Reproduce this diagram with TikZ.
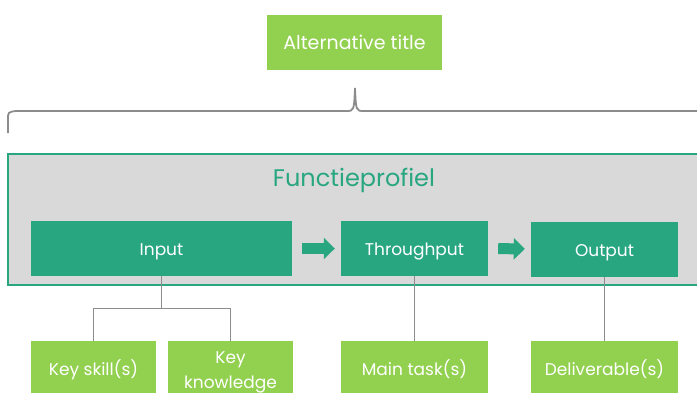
\documentclass[tikz,border=0pt]{standalone}
\usepackage{fontspec}
\setmainfont{Poppins}
\usetikzlibrary{arrows.meta}
\definecolor{darkgreen}{HTML}{28A680}
\definecolor{lightgreen}{HTML}{92D050}
\definecolor{panelgray}{HTML}{D9D9D9}
\definecolor{linegray}{HTML}{8C8C8C}
\begin{document}
\begin{tikzpicture}[x=1pt,y=1pt,
  box/.style={fill=#1,text=white,minimum height=55pt,inner sep=2pt,align=center,
    font=\fontsize{17}{25}\selectfont},
  oneline/.style={text height=14pt,text depth=0pt},
  link/.style={draw=linegray,line width=1pt},
  flow/.style={draw=darkgreen,line width=11pt,-{Triangle[length=11pt,width=21pt]},
    shorten <=10pt,shorten >=6pt}]
	% area
	\useasboundingbox (0,0) rectangle (697,-392);
	\clip (0,0) rectangle (697,-392);
	% titulo
	\node[box=lightgreen,oneline,minimum width=175pt,font=\fontsize{19}{22}\selectfont]
	  (title) at (354.5,-42.5) {Alternative title};
	% chave
	\draw[linegray,line width=1.8pt]
	  (8,-133) -- (8,-120) .. controls (8,-112) .. (16,-111) -- (346,-111)
	  .. controls (354,-111) .. (355,-88) .. controls (356,-111) .. (364,-111) -- (705,-111);
	% painel
	\draw[darkgreen,fill=panelgray,line width=1.8pt] (8,-154) rectangle (720,-285);
	\node[text=darkgreen,oneline,text height=17pt,font=\fontsize{24}{28}\selectfont]
	  (profiel) at (354,-178) {Functieprofiel};
	% blocos
	\node[box=darkgreen,oneline,minimum width=261pt] (input) at (161.5,-248.5) {Input};
	\node[box=darkgreen,oneline,minimum width=147pt] (through) at (414.5,-248.5) {Throughput};
	\node[box=darkgreen,oneline,minimum width=147pt] (output) at (604.5,-249) {Output};
	\draw[flow] (input.east) -- (through.west);
	\draw[flow] (through.east) -- (output.west);
	% itens
	\node[box=lightgreen,oneline,minimum width=125pt] (skill) at (93.5,-368.5) {Key skill(s)};
	\node[box=lightgreen,minimum width=125pt,minimum height=63pt] (knowl) at (230.5,-372.5) {Key\\knowledge};
	\node[box=lightgreen,oneline,minimum width=147pt] (task) at (414.5,-368.5) {Main task(s)};
	\node[box=lightgreen,oneline,minimum width=147pt] (deliv) at (604.5,-368.5) {Deliverable(s)};
	% ligacoes
	\coordinate (fork) at (input.south |- 0,-308);
	\draw[link] (input.south) -- (fork) -| (skill.north);
	\draw[link] (fork) -| (knowl.north);
	\draw[link] (through.south) -- (task.north);
	\draw[link] (output.south) -- (deliv.north);
\end{tikzpicture}
\end{document}
